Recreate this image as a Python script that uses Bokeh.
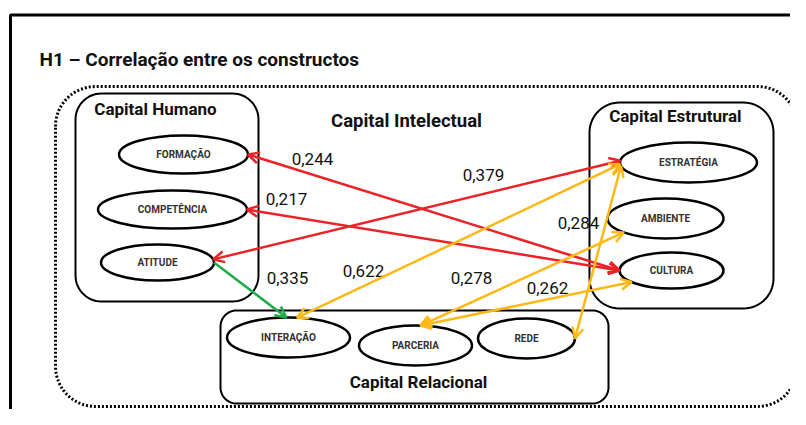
import numpy as np
from bokeh.plotting import figure
from bokeh.models import Range1d, ColumnDataSource, Arrow, OpenHead
from bokeh.core.properties import value
from bokeh.embed import file_html
from bokeh.resources import INLINE

# ---------------- data ----------------
title_text = "H1 – Correlação entre os constructos"

group_names = ["Capital Humano", "Capital  Estrutural", "Capital Relacional"]
group_x0 = [75, 589, 220]
group_y0 = [93, 102, 310]
group_x1 = [258, 773, 608]
group_y1 = [301, 308, 403]
group_r = [26, 30, 16]
group_label_x = [155, 677, 418]
group_label_y = [108, 115, 381]

outer_name = "Capital Intelectual"
outer_box = [55, 86, 797, 406]
outer_r = 40
outer_label_xy = [406, 120]

nodes = ["FORMAÇÃO", "COMPETÊNCIA", "ATITUDE", "ESTRATÉGIA", "AMBIENTE",
         "CULTURA", "INTERAÇÃO", "PARCERIA", "REDE"]
node_x = [183, 172, 157, 688, 665, 671, 288, 415, 526]
node_y = [154, 209, 262, 162, 218, 270, 337, 345, 338]
node_w = [129, 149, 113, 137, 116, 104, 123, 113, 97]
node_h = [38, 38, 36, 40, 40, 36, 40, 40, 40]

# links: source node, anchor angle on source, target node, anchor angle on target
link_src = ["FORMAÇÃO", "COMPETÊNCIA", "ATITUDE", "ATITUDE", "INTERAÇÃO", "PARCERIA", "PARCERIA", "REDE"]
link_src_ang = [0, 0, 350, 0, 278, 275, 275, 0]
link_dst = ["CULTURA", "CULTURA", "ESTRATÉGIA", "INTERAÇÃO", "ESTRATÉGIA", "AMBIENTE", "CULTURA", "ESTRATÉGIA"]
link_dst_ang = [180, 180, 185, 268, 175, 136, 140, 170]
link_kind = ["red", "red", "red", "green", "yellow", "yellow", "yellow", "yellow"]
link_two_way = [True, True, True, False, True, True, True, True]

corr_labels = ["0,244", "0,217", "0,379", "0,335", "0,622", "0,278", "0,262", "0,284"]
corr_x = [312, 286, 483, 287, 363, 471, 547, 578]
corr_y = [158, 198, 174, 277, 270, 277, 287, 222]

COLORS = {"red": "#ec2227", "green": "#1faa4b", "yellow": "#fdb813"}
FONT = "Roboto"

# ---------------- helpers ----------------
def rounded_rect(x0, y0, x1, y1, r, n=16):
    xs, ys = [], []
    corners = [((x0 + r, y0 + r), np.pi, 1.5 * np.pi),
               ((x1 - r, y0 + r), 1.5 * np.pi, 2 * np.pi),
               ((x1 - r, y1 - r), 0, 0.5 * np.pi),
               ((x0 + r, y1 - r), 0.5 * np.pi, np.pi)]
    for (cx, cy), a0, a1 in corners:
        t = np.linspace(a0, a1, n)
        xs.extend(cx + r * np.cos(t))
        ys.extend(cy + r * np.sin(t))
    xs.append(xs[0]); ys.append(ys[0])
    return xs, ys

def anchor(name, ang):
    i = nodes.index(name)
    t = np.deg2rad(ang)
    return node_x[i] + node_w[i] / 2 * np.cos(t), node_y[i] + node_h[i] / 2 * np.sin(t)

# ---------------- figure ----------------
W, H = 790, 409
p = figure(width=W, height=H, output_backend="svg", toolbar_location=None,
           x_range=Range1d(0, W), y_range=Range1d(H, 0),
           x_axis_type=None, y_axis_type=None, min_border=0)
p.grid.visible = False
p.outline_line_color = None
p.background_fill_color = "white"

# outer page frame
p.line([10, 10, 810], [430, 14.5, 14.5], line_color="black", line_width=3)

# title
p.text([39], [59], text=[title_text], text_font=value(FONT), text_font_style="bold",
       text_font_size="19px", text_baseline="middle", text_align="left", text_color="#111111")

# outer dotted Capital Intelectual box
ox, oy = rounded_rect(*outer_box, outer_r)
p.line(ox, oy, line_color="black", line_width=3, line_dash="2 2")
p.text([outer_label_xy[0]], [outer_label_xy[1]], text=[outer_name], text_font=value(FONT),
       text_font_style="bold", text_font_size="18.5px", text_align="center",
       text_baseline="middle", text_color="#111111")

# group boxes
for i in range(len(group_names)):
    gx, gy = rounded_rect(group_x0[i], group_y0[i], group_x1[i], group_y1[i], group_r[i])
    p.line(gx, gy, line_color="black", line_width=2)
p.text(group_label_x, group_label_y, text=group_names, text_font=value(FONT),
       text_font_style="bold", text_font_size="17px", text_align="center",
       text_baseline="middle", text_color="#111111")

# arrows
for kind in ["red", "green", "yellow"]:
    for two_way in [True, False]:
        idx = [k for k in range(len(link_src)) if link_kind[k] == kind and link_two_way[k] == two_way]
        if not idx:
            continue
        xs0, ys0, xs1, ys1 = [], [], [], []
        for k in idx:
            a = anchor(link_src[k], link_src_ang[k])
            b = anchor(link_dst[k], link_dst_ang[k])
            xs0.append(a[0]); ys0.append(a[1]); xs1.append(b[0]); ys1.append(b[1])
        src = ColumnDataSource(dict(x0=xs0, y0=ys0, x1=xs1, y1=ys1))
        col = COLORS[kind]
        head = lambda: OpenHead(size=11, line_color=col, line_width=2.5)
        p.add_layout(Arrow(start=head() if two_way else None, end=head(),
                           x_start="x0", y_start="y0", x_end="x1", y_end="y1",
                           source=src, line_color=col, line_width=2.5))

# nodes
p.ellipse(node_x, node_y, width=node_w, height=node_h, fill_color="white",
          line_color="black", line_width=2.5)
p.text(node_x, node_y, text=nodes, text_font=value(FONT), text_font_style="bold",
       text_font_size="10px", text_align="center", text_baseline="middle", text_color="#333333")

# correlation labels
p.text(corr_x, corr_y, text=corr_labels, text_font=value(FONT), text_font_size="17px",
       text_align="center", text_baseline="middle", text_color="#111111")

open("out.html", "w").write(file_html(p, INLINE))
